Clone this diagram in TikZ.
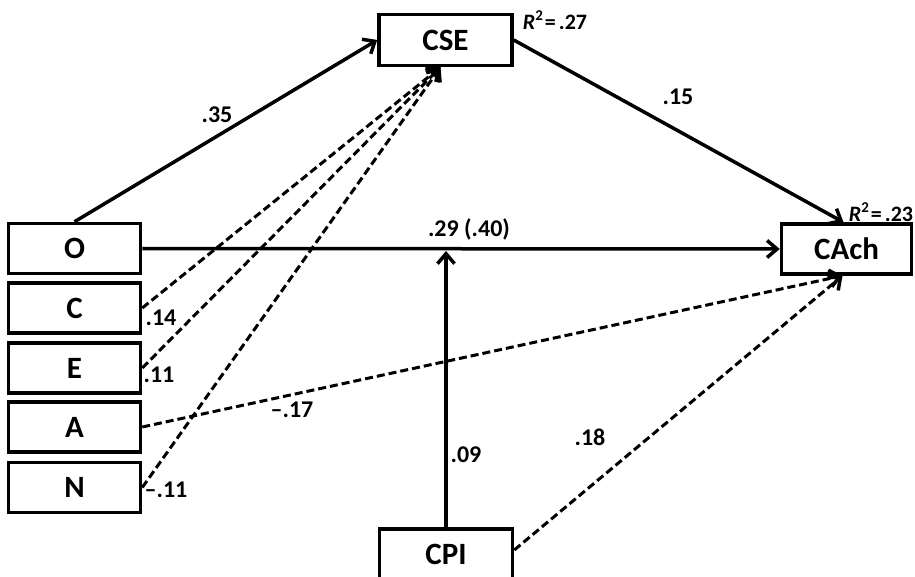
\documentclass[tikz,border=0pt]{standalone}
\usepackage{fontspec}
\setmainfont{Carlito}
\usetikzlibrary{arrows.meta}
\begin{document}
\begin{tikzpicture}[x=1pt,y=-1pt,
  var/.style={draw, line width=3.5pt, minimum width=132pt, minimum height=50pt,
    inner sep=0pt, font=\fontsize{31}{34}\selectfont\bfseries},
  coef/.style={inner sep=0pt, font=\fontsize{24}{28}\selectfont\bfseries},
  rsq/.style={inner sep=0pt, font=\fontsize{22}{24}\selectfont\bfseries},
  path/.style={line width=3.5pt, -{Straight Barb[length=10pt,width=17pt,line width=3.5pt]}},
  dpath/.style={path, line width=3pt, dash pattern=on 8pt off 4pt}]
\useasboundingbox (0,0) rectangle (915,577);

% predictors
\node[var] (O) at (74.5,248.5) {O};
\node[var] (C) at (74.5,308) {C};
\node[var] (E) at (74.5,368) {E};
\node[var] (A) at (74.5,427) {A};
\node[var] (N) at (74.5,487.5) {N};

% mediator, moderator and outcome
\node[var, minimum width=133pt, minimum height=51pt] (CSE) at (445.5,40) {CSE};
\node[var, minimum width=130pt] (CAch) at (846.5,249) {CAch};
\node[var, minimum width=133pt] (CPI) at (446,554) {CPI};

% anchor points where paths meet
\coordinate (csein) at ([xshift=-5pt]CSE.south);
\coordinate (cachtop) at ([xshift=-3pt]CAch.north);
\coordinate (cachbot) at ([xshift=-4pt]CAch.south);
\coordinate (cpihit) at (CPI.north |- O.east);

% solid paths
\draw[path] (O.north) -- (CSE.west);
\draw[path] (CSE.east) -- (cachtop);
\draw[path] (O.east) -- (CAch.west);
\draw[path, shorten >=2.5pt] (CPI.north) -- (cpihit);

% dashed paths
\draw[dpath] (C.east) -- (csein);
\draw[dpath] (E.east) -- (csein);
\draw[dpath] (N.east) -- (csein);
\draw[dpath] (A.east) -- (cachbot);
\draw[dpath] ([yshift=4pt]CPI.east) -- (cachbot);

% coefficients
\node[coef] (l35) at (217,115) {.35};
\node[coef] (l15) at (678,97) {.15};
\node[coef] (l29) at (469,229) {.29 (.40)};
\node[coef] (l14) at (161,318) {.14};
\node[coef] (l11) at (159,375) {.11};
\node[coef] (l17) at (292,410) {--.17};
\node[coef] (ln11) at (166,490) {--.11};
\node[coef] (l09) at (466,455) {.09};
\node[coef] (l18) at (590,437) {.18};

% explained variance
\node[rsq] (r1) at (555,20) {\textit{R}\raisebox{0.4em}{\fontsize{15}{15}\selectfont 2}\kern2pt=\kern3pt.27};
\node[rsq] (r2) at (881,212) {\textit{R}\raisebox{0.4em}{\fontsize{15}{15}\selectfont 2}\kern2pt=\kern3pt.23};
\end{tikzpicture}
\end{document}
